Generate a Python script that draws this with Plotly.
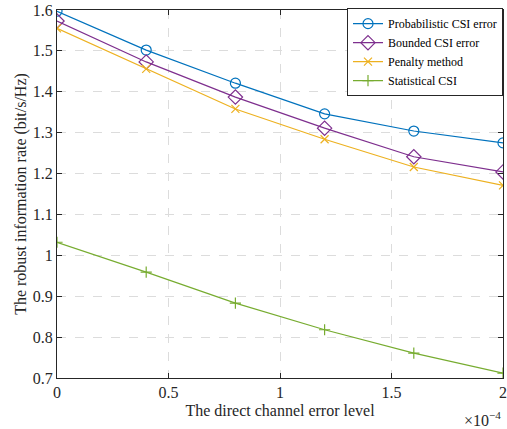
import plotly.graph_objects as go

x_level = [0, 0.4, 0.8, 1.2, 1.6, 2.0]  # ×10^-4
prob_csi = [1.597, 1.502, 1.421, 1.346, 1.304, 1.275]
bounded_csi = [1.573, 1.473, 1.387, 1.311, 1.241, 1.204]
penalty = [1.555, 1.456, 1.358, 1.284, 1.216, 1.171]
statistical = [1.032, 0.959, 0.883, 0.818, 0.761, 0.712]

x_ticks = [0, 0.5, 1, 1.5, 2]
x_tick_labels = ["0", "0.5", "1", "1.5", "2"]
y_ticks = [0.7, 0.8, 0.9, 1.0, 1.1, 1.2, 1.3, 1.4, 1.5, 1.6]
y_tick_labels = ["0.7", "0.8", "0.9", "1", "1.1", "1.2", "1.3", "1.4", "1.5", "1.6"]

series = [
    ("Probabilistic CSI error", prob_csi, "#0072BD", "circle-open", 10),
    ("Bounded CSI error", bounded_csi, "#7E2F8E", "diamond-open", 11),
    ("Penalty method", penalty, "#EDB120", "x-thin-open", 8),
    ("Statistical CSI", statistical, "#77AC30", "cross-thin-open", 8),
]

fig = go.Figure()
for name, ys, color, sym, sz in series:
    fig.add_trace(go.Scatter(
        x=x_level, y=ys, name=name, mode="lines+markers",
        line=dict(color=color, width=1.2),
        marker=dict(symbol=sym, size=sz, color=color, line=dict(color=color, width=1.2)),
    ))

font_family = "Liberation Serif, Times New Roman, serif"
axis_common = dict(
    showline=True, linecolor="#262626", linewidth=1, mirror="ticks",
    ticks="inside", ticklen=5, tickcolor="#262626",
    showgrid=True, gridcolor="#dcdcdc", griddash="dash", gridwidth=1,
    zeroline=False, automargin=False,
    tickfont=dict(family=font_family, size=16, color="#262626"),
)

fig.update_layout(
    width=507, height=429,
    margin=dict(l=57, r=4, t=10, b=51),
    paper_bgcolor="white", plot_bgcolor="white",
    font=dict(family=font_family, color="#262626"),
    xaxis=dict(range=[0, 2], tickvals=x_ticks, ticktext=x_tick_labels,
               title=dict(text="The direct channel error level",
                          font=dict(family=font_family, size=16, color="#262626"), standoff=4),
               **axis_common),
    yaxis=dict(range=[0.7, 1.6], tickvals=y_ticks, ticktext=y_tick_labels,
               title=dict(text="The robust information rate (bit/s/Hz)",
                          font=dict(family=font_family, size=16, color="#262626"), standoff=2),
               **axis_common),
    legend=dict(x=1, y=1.005, xanchor="right", yanchor="top",
                bgcolor="white", bordercolor="#262626", borderwidth=1,
                font=dict(family=font_family, size=12, color="black"),
                tracegroupgap=0, itemwidth=30),
    showlegend=True,
)

fig.add_annotation(text="×10<sup>−4</sup>", xref="paper", yref="paper",
                   x=1.0, y=-0.08, xanchor="right", yanchor="top", showarrow=False,
                   font=dict(family=font_family, size=16, color="#262626"))

fig.write_html("out.html")
